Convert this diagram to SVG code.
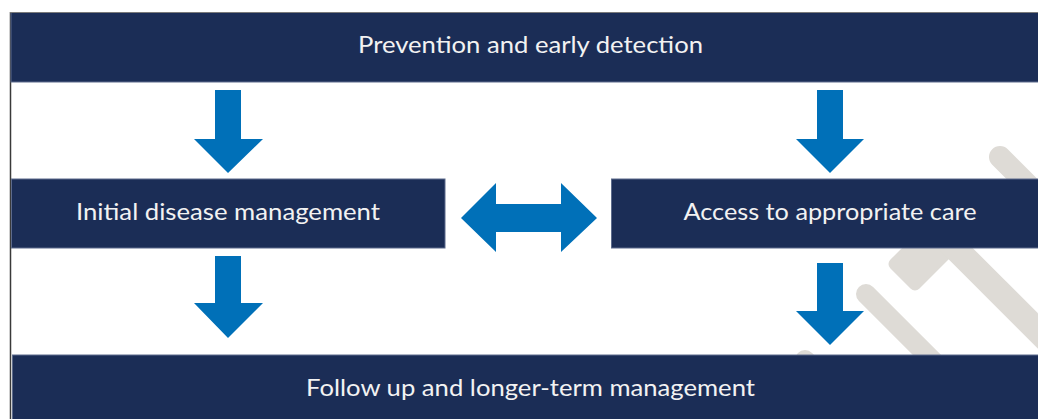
<svg xmlns="http://www.w3.org/2000/svg" width="1038" height="419" viewBox="0 0 1038 419">
  <defs>
    <style>
      .box { fill: #1b2d56; stroke: #5d6b8c; stroke-width: 1; }
      .lbl { fill: #f2f2f2; font-family: Lato, "Open Sans", "Liberation Sans", sans-serif; font-size: 24px; text-anchor: middle; }
      .arr { fill: #0070b8; }
      .wm { stroke: #dedbd6; fill: none; }
    </style>
  </defs>
  <rect x="0" y="0" width="1038" height="419" fill="#ffffff"/>

  <g id="watermark">
    <line class="wm" x1="1000" y1="157" x2="1080" y2="237" stroke-width="22" stroke-linecap="round"/>
    <rect x="0" y="-20.5" width="120" height="41" rx="6" fill="#dedbd6" transform="translate(900.5,278.5) rotate(-45)"/>
    <line class="wm" x1="935" y1="228" x2="1110" y2="403" stroke-width="25"/>
    <line class="wm" x1="866" y1="294" x2="1010" y2="438" stroke-width="20" stroke-linecap="round"/>
    <line class="wm" x1="805" y1="360" x2="860" y2="415" stroke-width="20" stroke-linecap="round"/>
  </g>

  <line x1="10.5" y1="12" x2="10.5" y2="419" stroke="#3a3a3a" stroke-width="1.5"/>

  <g id="node-prevention">
    <rect class="box" x="11" y="12.5" width="1030" height="69.5"/>
    <line x1="10" y1="12.5" x2="1038" y2="12.5" stroke="#7a7a7a" stroke-width="1"/>
    <text class="lbl" x="530.5" y="53" textLength="345" lengthAdjust="spacingAndGlyphs">Prevention and early detection</text>
  </g>

  <g id="node-initial">
    <rect class="box" x="11.5" y="179" width="433.5" height="69"/>
    <text class="lbl" x="228" y="220" textLength="304" lengthAdjust="spacingAndGlyphs">Initial disease management</text>
  </g>

  <g id="node-access">
    <rect class="box" x="611.5" y="179" width="430" height="69"/>
    <text class="lbl" x="830" y="220" textLength="293" lengthAdjust="spacingAndGlyphs">Access to appropriate care</text>
  </g>

  <g id="node-followup">
    <rect class="box" x="12.5" y="355" width="1030" height="70"/>
    <text class="lbl" x="530.5" y="396" textLength="449" lengthAdjust="spacingAndGlyphs">Follow up and longer-term management</text>
  </g>

  <g id="connectors">
    <polygon class="arr" points="215,90 241,90 241,139 263,139 228,173 194,139 215,139"/>
    <polygon class="arr" points="817,90 843,90 843,139 864,139 830,173 796,139 817,139"/>
    <polygon class="arr" points="215,256 241,256 241,303 263,303 228,338 194,303 215,303"/>
    <polygon class="arr" points="817,263 843,263 843,311 864,311 830,345 796,311 817,311"/>
    <polygon class="arr" points="461,218 496,183 496,204 561,204 561,183 597,218 561,252 561,232 496,232 496,252"/>
  </g>
</svg>
